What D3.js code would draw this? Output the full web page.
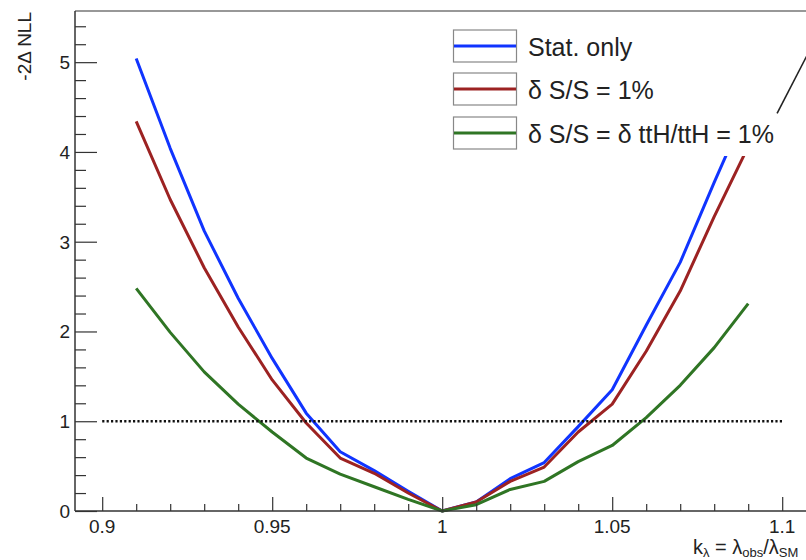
<!DOCTYPE html>
<html lang="en">
    <head>
        <meta charset="utf-8">
        <title>Likelihood scan k_lambda</title>
        <script type="text/javascript" src="https://d3js.org/d3.v7.min.js"></script>
        <style>
            body { margin: 0; background: #fff; }
            svg text {
              font-family: "Liberation Sans", Arial, Helvetica, sans-serif;
              fill: #222;
            }
            .curve { fill: none; stroke-width: 3px; stroke-linejoin: round; }
        </style>
    </head>
    <body>
        <svg width="806" height="560"></svg>

        <script type="text/javascript">

            // scan points k_lambda
            var kLambda = [0.91, 0.92, 0.93, 0.94, 0.95, 0.96, 0.97, 0.98, 0.99, 1.00,
                           1.01, 1.02, 1.03, 1.04, 1.05, 1.06, 1.07, 1.08, 1.09];

            // -2 delta NLL for each scenario
            var statOnly = [5.04, 4.04, 3.12, 2.37, 1.70, 1.09, 0.66, 0.45, 0.22, 0.00,
                            0.10, 0.36, 0.54, 0.94, 1.35, 2.07, 2.77, 3.66, 4.52];
            var sigSyst  = [4.34, 3.47, 2.71, 2.05, 1.46, 0.98, 0.59, 0.42, 0.20, 0.00,
                            0.10, 0.33, 0.49, 0.88, 1.19, 1.78, 2.45, 3.28, 4.06];
            var sigTtH   = [2.48, 1.99, 1.55, 1.19, 0.88, 0.59, 0.41, 0.27, 0.13, 0.00,
                            0.07, 0.24, 0.33, 0.55, 0.73, 1.04, 1.40, 1.82, 2.31];

            var seriesNames = ["Stat. only", "\u03b4 S/S = 1%", "\u03b4 S/S = \u03b4 ttH/ttH = 1%"];
            var seriesColors = ["#1034ff", "#9c2222", "#2f7524"];

            var yTicks = [0, 1, 2, 3, 4, 5];
            var xTicks = [0.9, 0.95, 1, 1.05, 1.1];

            // reference level and the stray segment at the top right
            var refLevel = 1;
            var refRange = [0.9, 1.1];
            var strayLine = [[1.0985, 4.43], [1.112, 5.42]];

            var svg = d3.select("svg");

            var padL = 75, padT = 11, padB = 511;
            var x = d3.scaleLinear().domain([0.892, 1.112]).range([padL, padL + 0.22 * 3400]);
            var y = d3.scaleLinear().domain([0, 5.57]).range([padB, padT]);

            var series = [statOnly, sigSyst, sigTtH].map(function(vals, i) {
              return {
                name: seriesNames[i],
                color: seriesColors[i],
                pts: vals.map(function(v, j) { return [kLambda[j], v]; })
              };
            });

            var line = d3.line()
              .x(function(d) { return x(d[0]); })
              .y(function(d) { return y(d[1]); });

            // curves
            svg.append("g")
              .selectAll("path")
              .data(series)
              .enter().append("path")
              .attr("class", "curve")
              .attr("stroke", function(d) { return d.color; })
              .attr("d", function(d) { return line(d.pts); });

            // dotted line at 1
            svg.append("line")
              .attr("x1", x(refRange[0])).attr("x2", x(refRange[1]))
              .attr("y1", y(refLevel)).attr("y2", y(refLevel))
              .attr("stroke", "#111")
              .attr("stroke-width", 2.5)
              .attr("stroke-dasharray", "2.2,2.2");

            var frameColor = "#333";
            function styleTicks(g) {
              g.select(".domain").remove();
              g.selectAll("line").attr("stroke", frameColor).attr("stroke-width", 1.2);
            }

            // frame top
            svg.append("line")
              .attr("x1", padL).attr("x2", x.range()[1])
              .attr("y1", padT).attr("y2", padT)
              .attr("stroke", frameColor).attr("stroke-width", 1.2);

            // y axis, ROOT style ticks on the inside
            svg.append("g")
              .attr("transform", "translate(" + padL + ",0)")
              .call(d3.axisRight(y).tickValues(yTicks).tickSize(22).tickFormat(""))
              .call(styleTicks);
            var yMinor = d3.range(0, 5.5, 0.2).filter(function(v) { return Math.abs(v - Math.round(v)) > 1e-6; });
            svg.append("g")
              .attr("transform", "translate(" + padL + ",0)")
              .call(d3.axisRight(y).tickValues(yMinor).tickSize(11).tickFormat(""))
              .call(styleTicks);
            svg.append("line")
              .attr("x1", padL).attr("x2", padL)
              .attr("y1", padT).attr("y2", padB)
              .attr("stroke", frameColor).attr("stroke-width", 1.5);

            svg.append("g")
              .selectAll("text")
              .data(yTicks)
              .enter().append("text")
              .attr("x", 70)
              .attr("y", function(d) { return y(d) + 7; })
              .attr("text-anchor", "end")
              .attr("font-size", 19)
              .text(function(d) { return d; });

            // x axis
            svg.append("g")
              .attr("transform", "translate(0," + padB + ")")
              .call(d3.axisTop(x).tickValues(xTicks).tickSize(14).tickFormat(""))
              .call(styleTicks);
            var xMinor = d3.range(0.91, 1.111, 0.01).filter(function(v) {
              return Math.abs(v * 20 - Math.round(v * 20)) > 1e-6;
            });
            svg.append("g")
              .attr("transform", "translate(0," + padB + ")")
              .call(d3.axisTop(x).tickValues(xMinor).tickSize(7).tickFormat(""))
              .call(styleTicks);
            svg.append("line")
              .attr("x1", padL).attr("x2", x.range()[1])
              .attr("y1", padB).attr("y2", padB)
              .attr("stroke", frameColor).attr("stroke-width", 1.5);

            svg.append("g")
              .selectAll("text")
              .data(xTicks)
              .enter().append("text")
              .attr("x", function(d) { return x(d); })
              .attr("y", 533)
              .attr("text-anchor", "middle")
              .attr("font-size", 19)
              .text(function(d) { return d; });

            // axis titles
            svg.append("text")
              .attr("transform", "translate(31,12) rotate(-90)")
              .attr("text-anchor", "end")
              .attr("font-size", 19)
              .text("-2\u0394 NLL");

            var xt = svg.append("text")
              .attr("x", 693)
              .attr("y", 554)
              .attr("font-size", 20);
            xt.append("tspan").text("k");
            xt.append("tspan").attr("font-size", 13).attr("dy", 3).text("\u03bb");
            xt.append("tspan").attr("dy", -3).text(" = \u03bb");
            xt.append("tspan").attr("font-size", 13).attr("dy", 3).text("obs");
            xt.append("tspan").attr("dy", -3).text("/\u03bb");
            xt.append("tspan").attr("font-size", 13).attr("dy", 3).text("SM");

            // legend (white filled, hides the curve tops)
            svg.append("rect")
              .attr("x", 440).attr("y", 12)
              .attr("width", 400).attr("height", 144)
              .attr("fill", "#fff");

            var leg = svg.append("g")
              .selectAll("g")
              .data(series)
              .enter().append("g")
              .attr("transform", function(d, i) { return "translate(0," + [46, 89, 133][i] + ")"; });

            leg.append("rect")
              .attr("x", 453.5).attr("y", -16)
              .attr("width", 63).attr("height", 32)
              .attr("fill", "none")
              .attr("stroke", "#888")
              .attr("stroke-width", 1.2);
            leg.append("line")
              .attr("x1", 454).attr("x2", 516)
              .attr("y1", 0).attr("y2", 0)
              .attr("stroke", function(d) { return d.color; })
              .attr("stroke-width", 3);
            leg.append("text")
              .attr("x", 528)
              .attr("y", 10)
              .attr("font-size", 25)
              .text(function(d) { return d.name; });

            // stray segment at the top right (cut off at the canvas edge)
            svg.append("path")
              .attr("d", line(strayLine))
              .attr("stroke", "#222")
              .attr("stroke-width", 1.6)
              .attr("fill", "none");

        </script>
    </body>
</html>
